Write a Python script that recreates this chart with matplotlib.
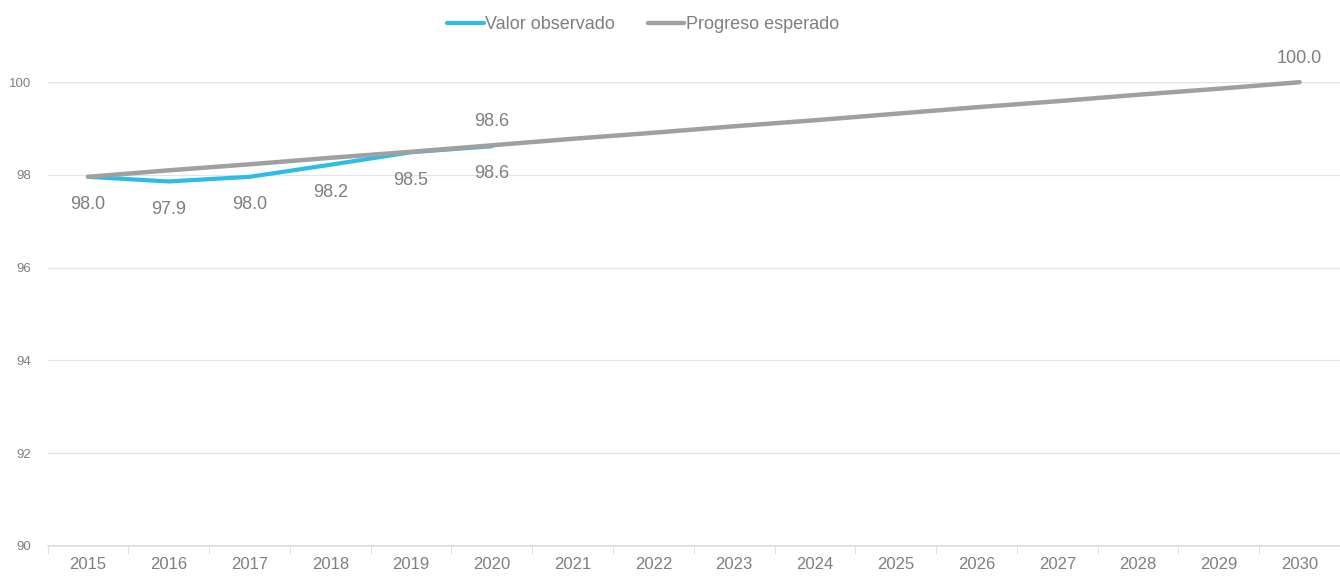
import matplotlib.pyplot as plt
import numpy as np

plt.rcParams['font.family'] = ['Liberation Sans', 'DejaVu Sans']

years = [str(y) for y in range(2015, 2031)]
observed = [97.96, 97.86, 97.96, 98.22, 98.49, 98.62]
expected = [97.96, 98.10, 98.23, 98.37, 98.50, 98.64, 98.78, 98.91,
            99.05, 99.18, 99.32, 99.46, 99.59, 99.73, 99.86, 100.0]
expected_labelled = [5, 15]
yticks = [90, 92, 94, 96, 98, 100]

blue = '#2bbde6'
grey = '#a0a0a0'
txt = '#7f7f7f'

fig = plt.figure(figsize=(13.4, 5.79), dpi=100)
ax = fig.add_axes([0.0355, 0.057, 0.9645, 0.801])

x = np.arange(len(years))
ax.plot(x[:len(observed)], observed, color=blue, lw=3, label='Valor observado',
        solid_capstyle='round', clip_on=False, zorder=3)
ax.plot(x, expected, color=grey, lw=3.2, label='Progreso esperado',
        solid_capstyle='round', clip_on=False, zorder=4)

for i, v in enumerate(observed):
    ax.annotate(f'{v:.1f}', (x[i], v), xytext=(0, -20), textcoords='offset points',
                ha='center', va='center', fontsize=13, color=txt)
for i in expected_labelled:
    ax.annotate(f'{expected[i]:.1f}', (x[i], expected[i]), xytext=(0, 17),
                textcoords='offset points', ha='center', va='center',
                fontsize=13, color=txt)

ax.set_xlim(-0.5, len(years) - 0.5)
ax.set_ylim(90, 100)
ax.set_yticks(yticks)
ax.set_yticklabels([str(t) for t in yticks], fontsize=9.5, color=txt)
ax.set_xticks(x)
ax.set_xticklabels(years, fontsize=12, color=txt)
ax.set_xticks(np.arange(-0.5, len(years)), minor=True)
ax.tick_params(axis='x', which='major', length=0, pad=8)
ax.tick_params(axis='x', which='minor', length=6, color='#d9dde3')
ax.tick_params(axis='y', length=0, pad=12)
ax.grid(axis='y', color='#e1e5ec', lw=0.9)
ax.set_axisbelow(True)
for s in ['top', 'right', 'left']:
    ax.spines[s].set_visible(False)
ax.spines['bottom'].set_color('#d9dde3')
ax.spines['bottom'].set_linewidth(1.2)

fig.legend(loc='upper center', bbox_to_anchor=(0.48, 1.0), ncol=2, frameon=False,
           fontsize=13, labelcolor=txt, handlelength=2.0, handletextpad=0.1,
           columnspacing=1.8)

fig.savefig('out.png', dpi=100)
